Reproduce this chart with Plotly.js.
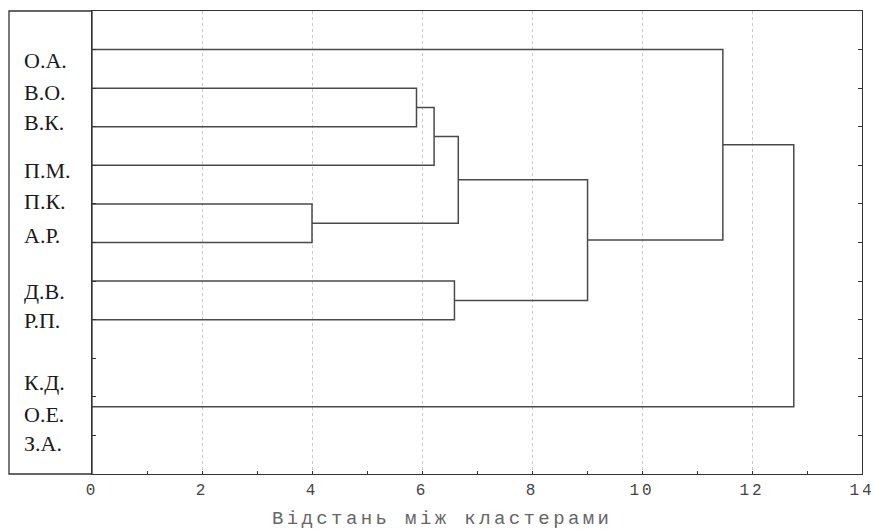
<!DOCTYPE html>
<html>
<head>
<meta charset="utf-8">
<script src="https://cdn.plot.ly/plotly-3.0.1.min.js"></script>
<style>
  html, body { margin: 0; padding: 0; background: #fff; }
  #chart { width: 874px; height: 531px; }
  .xtick text { letter-spacing: 3px; }
  .xtitlelabel text { letter-spacing: 3.4px; }
</style>
</head>
<body>
<div id="chart"></div>
<script>
// Object labels shown on the left, and their row positions (rows of the tree)
const labels   = ['О.А.', 'В.О.', 'В.К.', 'П.М.', 'П.К.', 'А.Р.', 'Д.В.', 'Р.П.', 'К.Д.', 'О.Е.', 'З.А.'];
const labelRow = [1.27, 2.10, 2.89, 4.14, 4.94, 5.83, 7.28, 8.01, 9.64, 10.45, 11.22];

// Leaves of the tree (rows where the branch lines start)
const leafNames = ['О.А.', 'В.О.', 'В.К.', 'П.М.', 'П.К.', 'А.Р.', 'Д.В.', 'Р.П.', 'О.Е.'];
const leafRow   = [1, 2, 3, 4, 5, 6, 7, 8, 10.26];

// Merges: [node A, node B, linkage distance]; new nodes are numbered after the leaves
const mergeA    = [1, 9, 4, 10, 6, 12, 0, 15];
const mergeB    = [2, 3, 5, 11, 7, 13, 14, 8];
const mergeDist = [5.90, 6.22, 4.00, 6.66, 6.59, 9.01, 11.47, 12.76];

// X axis ticks
const xTickVals = [0, 2, 4, 6, 8, 10, 12, 14];
const xTickText = ['0', '2', '4', '6', '8', '10', '12', '14'];
const xTitle = 'Відстань між кластерами';

// Build dendrogram segments
const nodeY = leafRow.slice();
const nodeH = leafRow.map(() => 0);
const xs = [], ys = [];
for (let i = 0; i < mergeA.length; i++) {
  const a = mergeA[i], b = mergeB[i], h = mergeDist[i];
  xs.push(nodeH[a], h, h, nodeH[b], null);
  ys.push(nodeY[a], nodeY[a], nodeY[b], nodeY[b], null);
  nodeY.push((nodeY[a] + nodeY[b]) / 2);
  nodeH.push(h);
}

const trace = {
  x: xs, y: ys, type: 'scatter', mode: 'lines',
  line: { color: '#4a4a4a', width: 1.5 },
  hoverinfo: 'skip', showlegend: false
};

const annotations = labels.map((t, i) => ({
  text: t, xref: 'paper', yref: 'y', x: -0.0905, y: labelRow[i],
  xanchor: 'left', yanchor: 'middle', showarrow: false,
  font: { family: 'Liberation Serif', size: 22, color: '#1a1a1a' }
}));
annotations.push({
  text: xTitle, xref: 'paper', yref: 'paper', x: 0.454, y: 0, yshift: -45,
  xanchor: 'center', yanchor: 'middle', showarrow: false,
  font: { family: 'Liberation Mono', size: 19, color: '#666' }
});

const layout = {
  width: 874, height: 531,
  margin: { l: 92, r: 12, t: 11, b: 57 },
  paper_bgcolor: '#fff', plot_bgcolor: '#fff',
  showlegend: false,
  xaxis: {
    range: [0, 14], tickvals: xTickVals, ticktext: xTickText,
    ticklabeloverflow: 'allow',
    showgrid: true, gridcolor: '#c8c8c8', griddash: 'dot', gridwidth: 1,
    zeroline: false, showline: true, linecolor: '#333', linewidth: 1.3, mirror: true,
    ticks: 'inside', ticklen: 3, tickcolor: '#333',
    minor: { dtick: 1, tick0: 0, ticks: 'inside', ticklen: 3, tickcolor: '#333', showgrid: false },
    tickfont: { family: 'Liberation Mono', size: 16, color: '#444' },
    fixedrange: true
  },
  yaxis: {
    range: [12, 0], tickvals: [1,2,3,4,5,6,7,8,9,10,11], showticklabels: false,
    showgrid: false, zeroline: false, showline: true, linecolor: '#333', linewidth: 1.3,
    mirror: 'ticks', ticks: 'inside', ticklen: 4, tickcolor: '#333', fixedrange: true
  },
  shapes: [{
    type: 'rect', xref: 'paper', yref: 'paper', x0: -0.1078, x1: 0, y0: 0, y1: 1,
    line: { color: '#333', width: 1.3 }, layer: 'above'
  }],
  annotations: annotations
};

Plotly.newPlot('chart', [trace], layout, { displayModeBar: false, staticPlot: true }).then(() => {
  const anns = document.querySelectorAll('.annotation');
  const last = anns[anns.length - 1];
  if (last) last.classList.add('xtitlelabel');
});
</script>
</body>
</html>
